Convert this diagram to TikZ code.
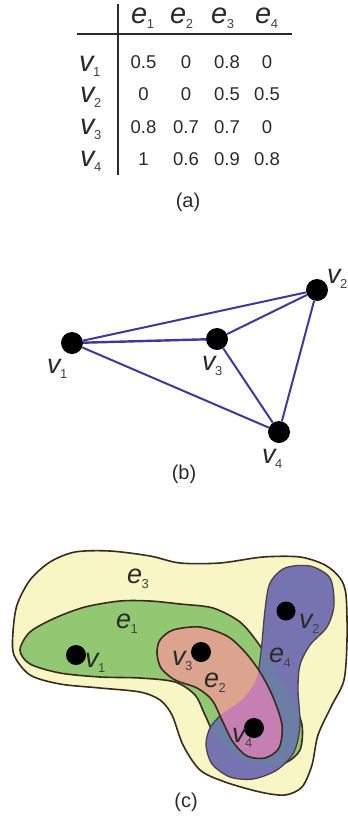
\documentclass[tikz,border=0pt]{standalone}
\usepackage{fontspec}
\setmainfont{Liberation Sans}
\usetikzlibrary{calc}
\definecolor{txt}{HTML}{2A2A2A}
\definecolor{subtxt}{HTML}{444444}
\definecolor{edgeblue}{HTML}{40389A}
\definecolor{yel}{HTML}{F8F6C4}
\definecolor{grn}{HTML}{92C872}
\definecolor{salm}{HTML}{DCA38E}
\definecolor{mag}{HTML}{C67FB2}
\definecolor{blu}{HTML}{7674B0}
\definecolor{blugrn}{HTML}{6C7EA6}
\definecolor{outl}{HTML}{3A2A20}
\newcommand\lbl[2]{{\fontsize{27}{27}\selectfont\itshape #1}\kern-0.5pt\raisebox{-5pt}{\fontsize{13}{13}\selectfont\color{subtxt}#2}}
\newcommand\tlbl[2]{{\fontsize{29}{29}\selectfont\itshape #1}\kern-0.5pt\raisebox{-5pt}{\fontsize{13}{13}\selectfont\color{subtxt}#2}}
\def\pathEthree{plot[smooth cycle] coordinates {(13,632) (17,605) (30,580) (50,562) (75,552) (110,551) (150,556) (180,563) (220,563) (263,557) (300,557) (325,565) (340,578) (346,595) (347,640) (344,680) (332,705) (318,735) (312,765) (302,787) (285,795) (260,792) (225,782) (200,770) (183,745) (172,715) (160,700) (140,692) (100,688) (60,684) (30,675) (14,655)}}
\def\pathEone{plot[smooth cycle] coordinates {(20,650) (30,632) (55,618) (85,607) (120,601) (150,601) (180,604) (213,608) (240,622) (258,643) (275,670) (292,700) (302,725) (300,750) (285,763) (262,765) (235,755) (215,735) (205,715) (195,695) (175,682) (140,678) (100,677) (60,673) (30,664)}}
\def\pathEtwo{plot[smooth cycle] coordinates {(157,653) (160,640) (173,630) (200,627) (227,636) (245,652) (260,672) (273,697) (282,725) (279,748) (265,758) (247,756) (233,742) (222,720) (212,700) (197,688) (175,680) (161,668)}}
\def\pathEfour{plot[smooth cycle] coordinates {(270,583) (285,568) (310,566) (330,578) (334,605) (327,627) (310,645) (300,665) (298,690) (300,725) (294,752) (277,770) (253,779) (230,777) (212,764) (206,745) (210,728) (222,714) (242,700) (256,680) (261,652) (265,610)}}
\begin{document}
\begin{tikzpicture}[x=1pt,y=-1pt,
  lab/.style={anchor=base west,inner sep=0pt,text=txt},
  num/.style={anchor=base,inner sep=0pt,text=txt,font=\fontsize{18.5}{18.5}\selectfont},
  captxt/.style={inner sep=0pt,text=txt,font=\fontsize{20}{20}\selectfont},
  dot/.style={circle,fill=black,inner sep=0pt,minimum size=22pt},
  cdot/.style={circle,fill=black,inner sep=0pt,minimum size=20pt},
  gedge/.style={draw=edgeblue,line width=2pt},
  rule/.style={draw=txt,line width=2pt},
  region/.style={draw=outl,line width=1.6pt}]
\useasboundingbox (0,0) rectangle (348,817);
\fill[white] (0,0) rectangle (348,817);
% ---------- (a) table ----------
\draw[rule] (118,4) -- (118,175);
\draw[rule] (77,34) -- (292,34);
\node[lab] (he1) at (131,23) {\tlbl{e}{1}};
\node[lab] (he2) at (170,23) {\tlbl{e}{2}};
\node[lab] (he3) at (211,23) {\tlbl{e}{3}};
\node[lab] (he4) at (255,23) {\tlbl{e}{4}};
\node[lab] (rv1) at (79,71) {\tlbl{v}{1}};
\node[lab] (rv2) at (80,102) {\tlbl{v}{2}};
\node[lab] (rv3) at (80,134) {\tlbl{v}{3}};
\node[lab] (rv4) at (80,166) {\tlbl{v}{4}};
\node[num] (n11) at (143.5,68) {0.5};
\node[num] (n12) at (186,68) {0};
\node[num] (n13) at (227,68) {0.8};
\node[num] (n14) at (267,68) {0};
\node[num] (n21) at (143.5,100) {0};
\node[num] (n22) at (186,100) {0};
\node[num] (n23) at (227,100) {0.5};
\node[num] (n24) at (267,100) {0.5};
\node[num] (n31) at (143.5,133) {0.8};
\node[num] (n32) at (186,133) {0.7};
\node[num] (n33) at (227,133) {0.7};
\node[num] (n34) at (267,133) {0};
\node[num] (n41) at (143.5,165) {1};
\node[num] (n42) at (186,165) {0.6};
\node[num] (n43) at (227,165) {0.9};
\node[num] (n44) at (267,165) {0.8};
\node[captxt] (capa) at (188,202) {(a)};
% ---------- (b) graph ----------
\node[dot] (b1) at (72,343) {};
\node[dot] (b3) at (217,339) {};
\node[dot] (b2) at (317,290) {};
\node[dot] (b4) at (279,432) {};
\draw[gedge] (b1) -- (b2);
\draw[gedge,line width=2.4pt] (b1) -- (b3);
\draw[gedge] (b1) -- (b4);
\draw[gedge] (b3) -- (b2);
\draw[gedge] (b3) -- (b4);
\draw[gedge] (b2) -- (b4);
\node[lab] (lb1) at (47,373) {\lbl{v}{1}};
\node[lab] (lb3) at (202,370) {\lbl{v}{3}};
\node[lab] (lb2) at (327,283) {\lbl{v}{2}};
\node[lab] (lb4) at (262,463) {\lbl{v}{4}};
\node[captxt] (capb) at (184,474) {(b)};
% ---------- (c) hypergraph ----------
\fill[yel] \pathEthree;
\draw[region] \pathEthree;
\fill[grn] \pathEone;
\draw[region] \pathEone;
\fill[blu] \pathEfour;
\begin{scope}
  \clip \pathEfour;
  \fill[blugrn] \pathEone;
\end{scope}
\draw[draw=outl!70!blu,line width=1.3pt] \pathEfour;
\fill[salm] \pathEtwo;
\begin{scope}
  \clip \pathEtwo;
  \fill[mag] \pathEfour;
\end{scope}
\draw[region] \pathEtwo;
\node[cdot] (c1) at (76,655) {};
\node[cdot] (c3) at (201,652) {};
\node[cdot,minimum size=19pt] (c2) at (286,611) {};
\node[cdot] (c4) at (254,728) {};
\node[lab] (le3) at (127,583) {\lbl{e}{3}};
\node[lab] (le1) at (116,628) {\lbl{e}{1}};
\node[lab] (lv1) at (85,667) {\lbl{v}{1}};
\node[lab] (lv3) at (172,665) {\lbl{v}{3}};
\node[lab] (le2) at (204,687) {\lbl{e}{2}};
\node[lab] (le4) at (269,662) {\lbl{e}{4}};
\node[lab] (lv2) at (299,628) {\lbl{v}{2}};
\node[lab] (lv4) at (232,742) {\lbl{v}{4}};
\node[captxt] (capc) at (186,802) {(c)};
\end{tikzpicture}
\end{document}
